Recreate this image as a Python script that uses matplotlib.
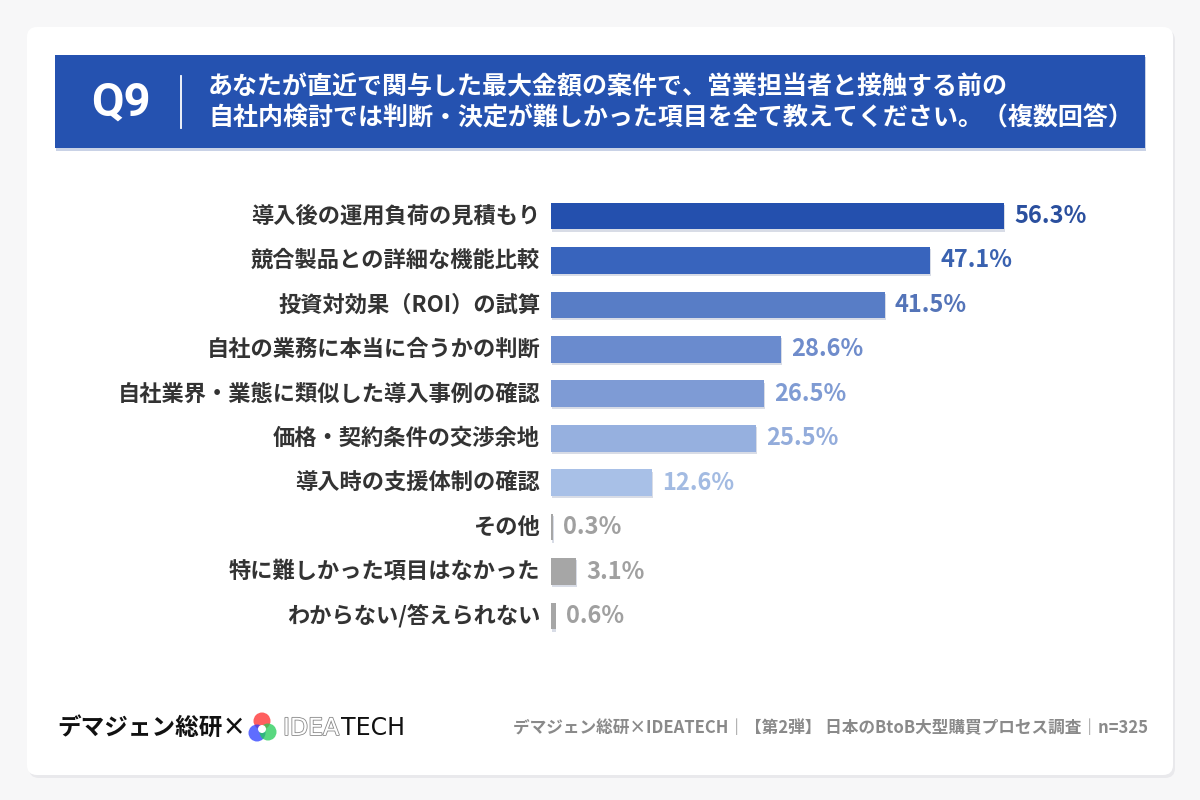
import matplotlib
matplotlib.use("Agg")
import matplotlib.pyplot as plt
import matplotlib.patheffects as pe
from matplotlib.patches import FancyBboxPatch, Rectangle, Circle

plt.rcParams['font.family'] = ['Noto Sans CJK JP', 'DejaVu Sans']

categories = [
    "導入後の運用負荷の見積もり",
    "競合製品との詳細な機能比較",
    "投資対効果（ROI）の試算",
    "自社の業務に本当に合うかの判断",
    "自社業界・業態に類似した導入事例の確認",
    "価格・契約条件の交渉余地",
    "導入時の支援体制の確認",
    "その他",
    "特に難しかった項目はなかった",
    "わからない/答えられない",
]
values = [56.3, 47.1, 41.5, 28.6, 26.5, 25.5, 12.6, 0.3, 3.1, 0.6]
bar_colors = ["#2450ae", "#3864bd", "#587dc6", "#6a8bce", "#7e9bd5", "#96b0df", "#a8c0e7",
              "#a6a6a6", "#a6a6a6", "#a6a6a6"]
label_colors = ["#2a4f9e", "#3a62b0", "#5474b8", "#6f8ccb", "#7f9bd3", "#93acdb", "#a3bbe2",
                "#a0a0a0", "#a0a0a0", "#a0a0a0"]

title_line1 = "あなたが直近で関与した最大金額の案件で、営業担当者と接触する前の"
title_line2 = "自社内検討では判断・決定が難しかった項目を全て教えてください。（複数回答）"
footer_right = "デマジェン総研×IDEATECH｜【第2弾】 日本のBtoB大型購買プロセス調査｜n=325"

W, H = 1200, 800
fig = plt.figure(figsize=(12, 8), dpi=100)
fig.patch.set_facecolor("#f7f7f8")

bg = fig.add_axes([0, 0, 1, 1])
bg.set_xlim(0, W)
bg.set_ylim(H, 0)
bg.axis("off")

# card shadow + card
bg.add_patch(FancyBboxPatch((29, 30), 1146, 748, boxstyle="round,pad=0,rounding_size=10",
                            facecolor="#e9e9ec", edgecolor="none", zorder=0))
bg.add_patch(FancyBboxPatch((27, 27), 1146, 748, boxstyle="round,pad=0,rounding_size=10",
                            facecolor="white", edgecolor="none", zorder=1))

# header band
bg.add_patch(Rectangle((56, 57), 1090, 94, facecolor="#c9d2e6", edgecolor="none", zorder=2))
bg.add_patch(Rectangle((55, 55), 1090, 93, facecolor="#2552b0", edgecolor="none", zorder=3))
bg.text(121, 103, "Q9", color="white", fontsize=34, fontweight="bold",
        ha="center", va="center", family=["Roboto", "DejaVu Sans"], zorder=4)
bg.plot([181, 181], [76, 128], color="white", lw=1.3, zorder=4)
bg.text(208, 87, title_line1, color="white", fontsize=18, fontweight="bold",
        ha="left", va="center", zorder=4)
bg.text(208, 118, title_line2, color="white", fontsize=18, fontweight="bold",
        ha="left", va="center", zorder=4)

# footer left
bg.text(57, 728, "デマジェン総研×", color="#111111", fontsize=17, fontweight="bold",
        ha="left", va="center", zorder=4)
for (cx, cy, c) in [(262, 721, "#ff2a2a"), (257, 733, "#2a3cff"), (268, 732, "#22cc55")]:
    bg.add_patch(Circle((cx, cy), 8.5, facecolor=c, edgecolor="none", alpha=0.75, zorder=4))
bg.add_patch(Circle((262, 729), 4, facecolor="white", edgecolor="none", zorder=5))
bg.text(283, 728, "IDEA", color="white", fontsize=17, ha="left", va="center",
        family=["DejaVu Sans"], zorder=4,
        path_effects=[pe.withStroke(linewidth=1.2, foreground="#888888")])
bg.text(341, 728, "TECH", color="#111111", fontsize=17, ha="left", va="center",
        family=["DejaVu Sans"], zorder=4)

# footer right
bg.text(1148, 728, footer_right, color="#8a8a8a", fontsize=12, fontweight="bold",
        ha="right", va="center", zorder=4)

# bar axes
px_per_unit = (1004 - 551) / 56.3
ax_left_px = 551
ax_width_px = 560
top_px = 216 - 22.2
height_px = 44.44 * 10
ax = fig.add_axes([ax_left_px / W, (H - top_px - height_px) / H, ax_width_px / W, height_px / H])
ax.set_xlim(0, ax_width_px / px_per_unit)
ax.set_ylim(len(values) - 0.5, -0.5)
ax.axis("off")
ax.patch.set_alpha(0)

ys = list(range(len(values)))
ax.barh([y + 0.05 for y in ys], values, height=0.6, left=0.08, color="#d8dce6", zorder=1)
ax.barh(ys, values, height=0.6, color=bar_colors, zorder=2)

for y, v, cat, lc in zip(ys, values, categories, label_colors):
    ax.text(v + 1.25, y, f"{v:.1f}%", color=lc, fontsize=17, fontweight="bold",
            ha="left", va="center", zorder=3)
    ax.text(-1.35, y, cat, color="#333333", fontsize=16, fontweight="bold",
            ha="right", va="center", zorder=3, clip_on=False)

fig.savefig("out.png", dpi=100, facecolor=fig.get_facecolor())
